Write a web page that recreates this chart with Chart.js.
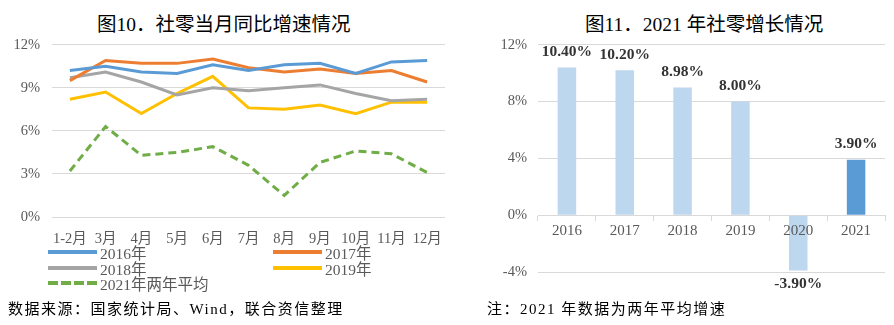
<!DOCTYPE html>
<html>
<head>
<meta charset="utf-8">
<script src="https://cdn.jsdelivr.net/npm/chart.js@4/dist/chart.umd.min.js"></script>
<style>
  body { margin:0; width:894px; height:325px; background:#fff; position:relative; overflow:hidden;
         font-family:"Liberation Serif","Noto Sans CJK SC",serif; }
  .title { position:absolute; top:8px; font-size:19.5px; color:#000; white-space:nowrap; }
  .note { position:absolute; top:297px; font-size:15px; color:#000; letter-spacing:1.5px; white-space:nowrap; }
  .box { position:absolute; }
  #legend { position:absolute; left:48px; top:244px; width:400px; }
  .item { position:absolute; height:16px; display:flex; align-items:center; font-size:15.5px; color:#595959; }
  .swatch { width:49px; height:4px; margin-right:3px; }
</style>
</head>
<body>
<div class="title" style="left:97px">图10．社零当月同比增速情况</div>
<div class="title" style="left:585px">图11．2021 年社零增长情况</div>

<div class="box" style="left:0;top:24px;width:452px;height:224px"><canvas id="lineChart"></canvas></div>
<div id="legend"></div>
<div class="box" style="left:470px;top:25px;width:424px;height:276px"><canvas id="barChart"></canvas></div>

<div class="note" style="left:8px">数据来源：国家统计局、Wind，联合资信整理</div>
<div class="note" style="left:487px">注：2021 年数据为两年平均增速</div>

<script>
// left chart: monthly retail sales growth, %
const months = ['1-2月','3月','4月','5月','6月','7月','8月','9月','10月','11月','12月'];
const y2016 = [10.2, 10.5, 10.1, 10.0, 10.6, 10.2, 10.6, 10.7, 10.0, 10.8, 10.9];
const y2017 = [9.5, 10.9, 10.7, 10.7, 11.0, 10.4, 10.1, 10.3, 10.0, 10.2, 9.4];
const y2018 = [9.7, 10.1, 9.4, 8.5, 9.0, 8.8, 9.0, 9.2, 8.6, 8.1, 8.2];
const y2019 = [8.2, 8.7, 7.2, 8.6, 9.8, 7.6, 7.5, 7.8, 7.2, 8.0, 8.0];
const y2021avg = [3.2, 6.3, 4.3, 4.5, 4.9, 3.6, 1.5, 3.8, 4.6, 4.4, 3.1];

// right chart: yearly growth, %
const years = ['2016','2017','2018','2019','2020','2021'];
const growth = [10.40, 10.20, 8.98, 8.00, -3.90, 3.90];

const tickFont = { family: '"Liberation Serif","Noto Sans CJK SC"', size: 14.5 };
const gridCol = '#d9d9d9';

const lineSets = [
  { label: '2016年', data: y2016, borderColor: '#5B9BD5' },
  { label: '2017年', data: y2017, borderColor: '#ED7D31' },
  { label: '2018年', data: y2018, borderColor: '#A5A5A5' },
  { label: '2019年', data: y2019, borderColor: '#FFC000' },
  { label: '2021年两年平均', data: y2021avg, borderColor: '#70AD47', borderDash: [8, 5] }
];
lineSets.forEach(d => { d.borderWidth = 3; d.pointRadius = 0; d.tension = 0; d.fill = false; });

new Chart(document.getElementById('lineChart'), {
  type: 'line',
  data: { labels: months, datasets: lineSets },
  options: {
    responsive: true, maintainAspectRatio: false, animation: false,
    layout: { padding: { top: 0, right: 7, left: 0, bottom: 0 } },
    plugins: { legend: { display: false }, tooltip: { enabled: false } },
    scales: {
      x: {
        offset: true,
        grid: { display: false }, border: { display: false },
        ticks: { color: '#595959', font: tickFont, padding: 5, maxRotation: 0, autoSkip: false },
        afterFit: s => { s.height = 31; }
      },
      y: {
        min: 0, max: 12,
        grid: { color: gridCol, drawTicks: false, lineWidth: 1 }, border: { display: false },
        ticks: { stepSize: 3, color: '#595959', font: tickFont, padding: 12, callback: v => v + '%' },
        afterFit: s => { s.width = 52; }
      }
    }
  }
});

// legend, two columns
const legendPos = [[0, 0], [225, 0], [0, 16], [225, 16], [0, 31]];
const legendEl = document.getElementById('legend');
lineSets.forEach((d, i) => {
  const it = document.createElement('div');
  it.className = 'item';
  it.style.left = legendPos[i][0] + 'px';
  it.style.top = legendPos[i][1] + 'px';
  const sw = document.createElement('div');
  sw.className = 'swatch';
  sw.style.background = d.borderDash
    ? 'repeating-linear-gradient(90deg,' + d.borderColor + ' 0 10px, transparent 10px 13px)'
    : d.borderColor;
  it.appendChild(sw);
  it.appendChild(document.createTextNode(d.label));
  legendEl.appendChild(it);
});

// value labels on bars
const barLabels = {
  id: 'barLabels',
  afterDatasetsDraw(chart) {
    const ctx = chart.ctx;
    const meta = chart.getDatasetMeta(0);
    ctx.save();
    ctx.font = 'bold 15.5px "Liberation Serif"';
    ctx.fillStyle = '#333333';
    ctx.textAlign = 'center';
    ctx.textBaseline = 'middle';
    meta.data.forEach((bar, i) => {
      const v = chart.data.datasets[0].data[i];
      const y = v >= 0 ? bar.y - 15.5 : bar.y + 13.5;
      ctx.fillText(v.toFixed(2) + '%', bar.x, y);
    });
    ctx.restore();
  }
};

new Chart(document.getElementById('barChart'), {
  type: 'bar',
  data: {
    labels: years,
    datasets: [{
      data: growth,
      backgroundColor: years.map(y => y === '2021' ? '#5B9BD5' : '#BDD7EE'),
      categoryPercentage: 1, barPercentage: 0.32
    }]
  },
  plugins: [barLabels],
  options: {
    responsive: true, maintainAspectRatio: false, animation: false,
    layout: { padding: { top: 0, right: 9, left: 0, bottom: 29 } },
    plugins: { legend: { display: false }, tooltip: { enabled: false } },
    scales: {
      x: {
        position: { y: 0 },
        grid: { drawOnChartArea: false, drawTicks: true, tickLength: 5, color: gridCol, offset: true },
        border: { display: true, color: gridCol },
        ticks: { z: 1, color: '#595959', font: { family: '"Liberation Serif"', size: 15 }, padding: 2 }
      },
      y: {
        min: -4, max: 12,
        grid: { color: gridCol, drawTicks: false }, border: { display: false },
        ticks: { stepSize: 4, color: '#595959', font: tickFont, padding: 11, callback: v => v + '%' },
        afterFit: s => { s.width = 68; }
      }
    }
  }
});
</script>
</body>
</html>
